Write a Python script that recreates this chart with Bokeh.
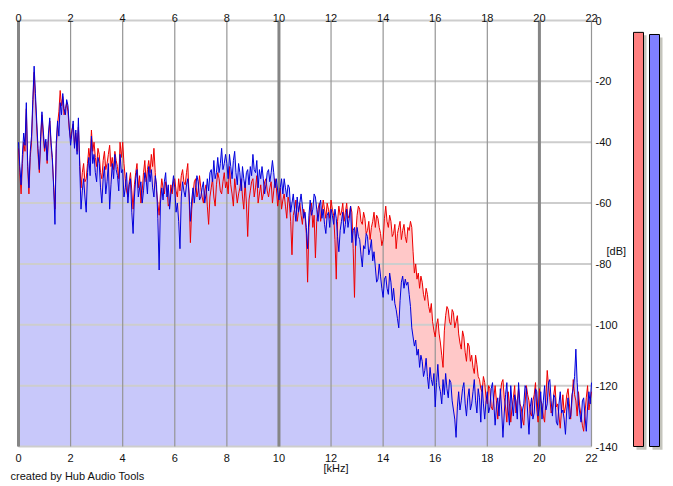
from bokeh.plotting import figure
from bokeh.models import Range1d
from bokeh.layouts import row
from bokeh.embed import file_html
from bokeh.resources import INLINE
from bokeh.core.properties import value

# ---------------- data (one value every 0.05 kHz, 0 .. 22 kHz) ----------------
freq_step_khz = 0.05

red_db = [
    -42, -50, -57, -47, -40, -43, -29, -48, -57, -45, -40, -28, -17, -26, -35, -44, -50, -40, -31, -38,
    -43, -40, -47, -39, -33, -41, -46, -54, -62, -42, -34, -30, -23, -28, -25, -31, -29, -27, -30, -36,
    -39, -36, -34, -41, -37, -43, -35, -46, -55, -50, -47, -53, -52, -47, -42, -46, -36, -43, -40, -45,
    -48, -42, -44, -50, -52, -46, -43, -49, -47, -44, -41, -48, -45, -49, -43, -46, -48, -52, -40, -45,
    -40, -47, -52, -56, -58, -53, -50, -56, -62, -54, -50, -47, -55, -51, -60, -56, -50, -46, -53, -49,
    -46, -50, -44, -48, -42, -50, -56, -60, -64, -57, -52, -55, -57, -53, -55, -61, -60, -54, -57, -53,
    -52, -56, -58, -52, -56, -51, -49, -53, -54, -50, -47, -58, -73, -62, -57, -53, -52, -58, -56, -51,
    -55, -58, -60, -56, -54, -61, -67, -58, -55, -52, -58, -61, -54, -50, -52, -56, -57, -53, -50, -55,
    -53, -57, -48, -54, -57, -61, -52, -56, -60, -57, -55, -52, -58, -62, -53, -60, -71, -59, -56, -53,
    -52, -58, -55, -51, -60, -57, -54, -59, -57, -53, -52, -56, -58, -55, -53, -60, -56, -52, -55, -61,
    -58, -55, -62, -59, -57, -61, -65, -58, -60, -66, -77, -64, -62, -59, -66, -63, -60, -64, -67, -62,
    -64, -70, -86, -68, -63, -60, -68, -64, -78, -66, -62, -60, -66, -63, -59, -62, -65, -60, -62, -65,
    -59, -62, -64, -72, -85, -66, -61, -64, -63, -60, -66, -63, -60, -65, -64, -61, -63, -75, -91, -70,
    -64, -61, -62, -66, -67, -63, -65, -70, -69, -66, -72, -68, -66, -63, -68, -64, -65, -68, -70, -74,
    -72, -65, -61, -66, -68, -64, -66, -71, -70, -67, -75, -70, -68, -66, -72, -69, -67, -71, -73, -68,
    -69, -66, -68, -76, -83, -80, -85, -83, -88, -84, -86, -90, -92, -88, -90, -94, -96, -93, -99, -102,
    -104, -100, -98, -103, -106, -110, -114, -102, -97, -94, -95, -99, -100, -95, -96, -101, -99, -97, -103, -106,
    -108, -102, -104, -109, -112, -106, -107, -112, -110, -114, -116, -110, -113, -117, -118, -121, -122, -117, -119, -124,
    -126, -120, -121, -127, -128, -124, -120, -125, -131, -126, -123, -119, -118, -124, -127, -132, -122, -126, -132, -127,
    -124, -120, -129, -125, -121, -126, -127, -131, -133, -126, -120, -123, -125, -129, -130, -125, -123, -119, -128, -132,
    -121, -125, -126, -130, -132, -124, -115, -120, -124, -129, -128, -123, -120, -127, -126, -130, -134, -128, -123, -129,
    -127, -123, -121, -126, -131, -125, -118, -123, -125, -130, -122, -127, -130, -133, -135, -129, -124, -120, -128, -125,
    -122,
]

blue_db = [
    -40, -48, -54, -44, -37, -41, -27, -46, -55, -43, -38, -26, -15, -24, -33, -42, -49, -38, -30, -36,
    -42, -39, -46, -37, -32, -40, -45, -55, -67, -40, -33, -38, -27, -31, -24, -29, -31, -26, -28, -35,
    -41, -37, -33, -42, -36, -44, -32, -48, -62, -56, -52, -58, -63, -50, -45, -51, -38, -47, -44, -50,
    -53, -45, -47, -55, -60, -52, -48, -57, -53, -47, -62, -54, -47, -52, -44, -49, -51, -56, -44, -50,
    -49, -58, -55, -50, -60, -54, -52, -63, -70, -58, -52, -49, -58, -55, -53, -60, -56, -50, -52, -57,
    -48, -53, -49, -55, -58, -51, -54, -65, -82, -60, -55, -59, -53, -50, -58, -54, -62, -57, -55, -51,
    -55, -63, -60, -66, -75, -58, -53, -56, -58, -54, -52, -57, -66, -59, -55, -60, -55, -51, -53, -59,
    -58, -55, -53, -60, -57, -52, -56, -50, -49, -53, -46, -52, -50, -45, -50, -47, -42, -49, -47, -44,
    -47, -52, -44, -48, -52, -46, -43, -50, -54, -47, -50, -56, -48, -52, -55, -50, -49, -54, -48, -51,
    -44, -49, -50, -46, -55, -49, -52, -48, -52, -57, -54, -50, -49, -53, -50, -46, -50, -55, -52, -56,
    -59, -55, -52, -57, -52, -55, -58, -54, -55, -63, -60, -57, -62, -66, -58, -63, -60, -57, -61, -65,
    -63, -68, -75, -64, -59, -64, -62, -57, -58, -62, -66, -61, -59, -65, -62, -67, -70, -64, -63, -68,
    -62, -64, -67, -62, -65, -71, -76, -69, -66, -63, -70, -67, -62, -68, -65, -61, -73, -69, -68, -74,
    -68, -71, -72, -77, -81, -74, -75, -70, -71, -77, -75, -72, -79, -76, -81, -86, -85, -80, -84, -88,
    -91, -85, -84, -88, -90, -83, -86, -92, -88, -93, -95, -98, -101, -92, -86, -84, -88, -85, -87, -86,
    -90, -94, -101, -104, -107, -105, -110, -108, -114, -110, -112, -117, -115, -111, -117, -121, -114, -118, -120, -116,
    -127, -119, -113, -120, -122, -126, -118, -123, -116, -121, -124, -118, -119, -125, -128, -131, -137, -127, -122, -128,
    -125, -121, -119, -126, -130, -124, -121, -128, -126, -122, -118, -125, -129, -121, -124, -132, -120, -126, -131, -125,
    -122, -129, -127, -121, -119, -126, -133, -127, -124, -130, -121, -128, -137, -129, -123, -119, -128, -133, -120, -126,
    -130, -123, -125, -131, -119, -126, -134, -128, -126, -120, -121, -129, -136, -127, -124, -131, -129, -121, -122, -130,
    -127, -122, -131, -125, -120, -128, -126, -119, -118, -125, -130, -123, -124, -132, -133, -126, -122, -129, -128, -131,
    -136, -128, -124, -131, -130, -123, -121, -117, -108, -119, -126, -129, -132, -125, -124, -130, -135, -127, -122, -126,
    -119,
]

freq_khz = [round(i * freq_step_khz, 3) for i in range(len(blue_db))]

x_ticks = [0, 2, 4, 6, 8, 10, 12, 14, 16, 18, 20, 22]
x_major_ticks = [0, 10, 20]
y_ticks = [0, -20, -40, -60, -80, -100, -120, -140]
x_tick_labels = [str(t) for t in x_ticks]
y_tick_labels = [str(t) for t in y_ticks]
floor_db = -140
top_db = 0
x_min_khz, x_max_khz = 0, 22
meter_levels_db = [-3.9, -4.6]   # red channel, blue channel

FONT = "Liberation Sans"
TXT = "#111111"

# ---------------- layout constants (pixels) ----------------
W, H = 631, 484
left_px, top_px = 18, 20
plot_w, plot_h = 573, 426
kx = plot_w / (x_max_khz - x_min_khz)      # px per kHz
ky = plot_h / (top_db - floor_db)          # px per dB

x_range = Range1d(x_min_khz - left_px / kx, x_min_khz + (W - left_px) / kx)
y_range = Range1d(floor_db - (H - top_px - plot_h) / ky, top_db + top_px / ky)

p = figure(width=W, height=H, x_range=x_range, y_range=y_range,
           output_backend="svg", toolbar_location=None,
           x_axis_location=None, y_axis_location=None, min_border=0)
p.outline_line_color = None
p.background_fill_color = "white"
p.border_fill_color = "white"
p.grid.visible = False

# area fills as closed polygons down to the floor
poly_x = freq_khz + freq_khz[::-1]
p.patch(poly_x, red_db + [floor_db] * len(red_db), fill_color="#ffc8c8",
        line_color=None, level="image")
p.patch(poly_x, blue_db + [floor_db] * len(blue_db), fill_color="#c8c8fa",
        line_color=None, level="image")

# grid
p.segment(x0=x_min_khz, y0=y_ticks, x1=x_max_khz, y1=y_ticks,
          line_color="#cdcdcd", line_width=2, level="underlay")
p.segment(x0=x_ticks, y0=floor_db, x1=x_ticks, y1=top_db,
          line_color="#959595", line_width=1.2, level="underlay")
p.segment(x0=x_major_ticks, y0=floor_db, x1=x_major_ticks, y1=top_db,
          line_color="#858585", line_width=3, level="underlay")

# spectra
p.line(freq_khz, red_db, line_color="#ee0000", line_width=1)
p.line(freq_khz, blue_db, line_color="#0000dd", line_width=1)

# tick labels
common = dict(text_font=value(FONT), text_font_size=value("11px"), text_color=TXT)
p.text(x=x_ticks, y=top_db, text=x_tick_labels, text_align="center",
       text_baseline="alphabetic", y_offset=-3, **common)
p.text(x=x_ticks, y=floor_db, text=x_tick_labels, text_align="center",
       text_baseline="alphabetic", y_offset=11, **common)
p.text(x=x_max_khz, y=y_ticks, text=y_tick_labels, text_align="left",
       text_baseline="middle", x_offset=4, **common)

# axis titles and credit
p.text(x=[x_max_khz], y=[-75.6], text=["[dB]"], text_align="left",
       text_baseline="middle", x_offset=15, **common)
p.text(x=[11.71], y=[floor_db], text=["[kHz]"], text_align="left",
       text_baseline="middle", y_offset=21, **common)
p.text(x=[x_min_khz], y=[floor_db], text=["created by Hub Audio Tools"], text_align="left",
       text_baseline="middle", x_offset=-8, y_offset=29, **common)

# ---------------- level meters ----------------
m = figure(width=35, height=H, x_range=Range1d(0, 35),
           y_range=Range1d(floor_db - (H - top_px - plot_h) / ky, top_db + top_px / ky),
           output_backend="svg", toolbar_location=None,
           x_axis_location=None, y_axis_location=None, min_border=0)
m.outline_line_color = None
m.background_fill_color = "white"
m.border_fill_color = "white"
m.grid.visible = False

bar_left = [2, 18]
bar_right = [12, 28]
shadow_px = 3
m.quad(left=[b + shadow_px for b in bar_left], right=[b + shadow_px for b in bar_right],
       top=[v - shadow_px / ky for v in meter_levels_db], bottom=floor_db - 1.1,
       fill_color="#c4c4bc", line_color=None)
m.quad(left=bar_left, right=bar_right, top=meter_levels_db, bottom=floor_db,
       fill_color=["#ff8080", "#8080ff"], line_color="#000000", line_width=1)

layout = row(p, m)
open("out.html", "w").write(file_html(layout, INLINE))
